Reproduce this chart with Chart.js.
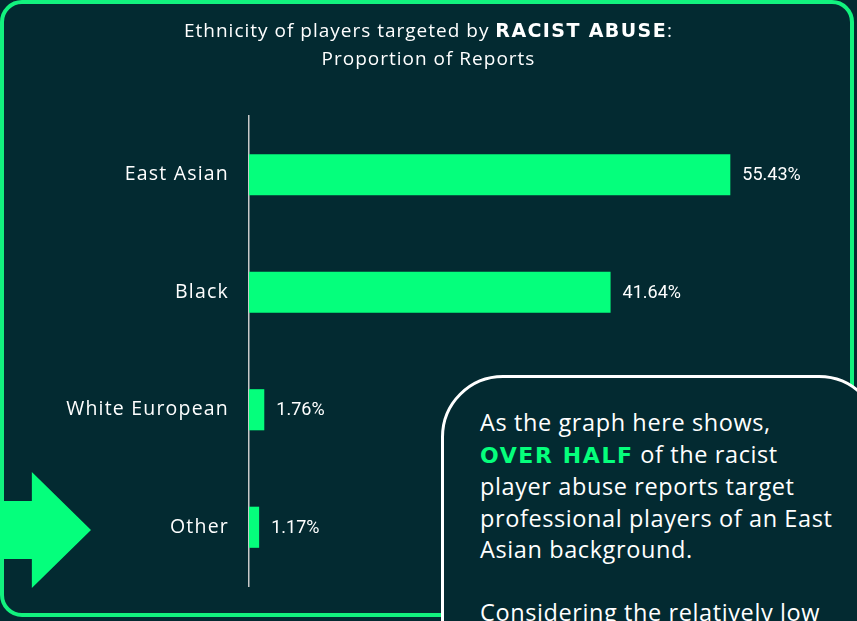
<!DOCTYPE html>
<html>
<head>
<meta charset="utf-8">
<script src="https://cdn.jsdelivr.net/npm/chart.js@4.4.1/dist/chart.umd.min.js"></script>
<style>
  html, body { margin:0; padding:0; }
  body { width:857px; height:621px; overflow:hidden; background:#032a31; position:relative; font-family: "Open Sans", "Noto Sans", sans-serif; color:#fff; }
  #frame { position:absolute; left:0; top:0; width:854px; height:617px; box-sizing:border-box; border:4px solid #12f27e; border-radius:22px; }
  #wrap { position:absolute; left:0; top:0; width:857px; height:621px; }
  #title { position:absolute; left:0; top:16px; width:857px; text-align:center; font-size:19px; line-height:28px; color:#fff; letter-spacing:1px; }
  .blk { font-family:"DejaVu Sans", sans-serif; font-weight:bold; letter-spacing:1.4px; font-size:19px; }
  #arrow { position:absolute; left:0; top:472px; width:91px; height:116px; background:#05ff7c;
           clip-path: polygon(0 25%, 35% 25%, 35% 0, 100% 50%, 35% 100%, 35% 75%, 0 75%); }
  #box { position:absolute; left:441px; top:375px; width:440px; height:320px; box-sizing:border-box; border:3px solid #fff; border-radius:62px; background:#032a31; }
  #boxtext { position:absolute; left:480px; top:407px; font-size:23.5px; line-height:31.5px; color:#fff; white-space:nowrap; letter-spacing:0.6px; }
  #boxtext .blk { color:#05ff7c; font-size:22px; letter-spacing:1.6px; }
</style>
</head>
<body>
<div id="frame"></div>
<div id="wrap"><canvas id="c" width="857" height="621"></canvas></div>
<div id="title">Ethnicity of players targeted by <span class="blk">RACIST ABUSE</span>:<br>Proportion of Reports</div>
<div id="arrow"></div>
<div id="box"></div>
<div id="boxtext">As the graph here shows,<br><span class="blk">OVER HALF</span> of the racist<br>player abuse reports target<br>professional players of an East<br>Asian background.<br><br>Considering the relatively low</div>
<script>
const categories = ["East Asian", "Black", "White European", "Other"];
const shares = [55.43, 41.64, 1.76, 1.17];
const valueLabels = ["55.43%", "41.64%", "1.76%", "1.17%"];

const spacingPlugin = {
  id: 'spacing',
  beforeDraw(chart) { chart.ctx.letterSpacing = '1.2px'; }
};

const valueLabelPlugin = {
  id: 'valueLabels',
  afterDatasetsDraw(chart) {
    const ctx = chart.ctx;
    const meta = chart.getDatasetMeta(0);
    ctx.save();
    ctx.letterSpacing = '0px';
    ctx.fillStyle = '#ffffff';
    ctx.font = '18px Roboto, "Noto Sans", sans-serif';
    ctx.textAlign = 'left';
    ctx.textBaseline = 'middle';
    meta.data.forEach((bar, i) => {
      ctx.fillText(valueLabels[i], bar.x + 12, bar.y + 1);
    });
    ctx.restore();
  }
};

new Chart(document.getElementById('c'), {
  type: 'bar',
  data: {
    labels: categories,
    datasets: [{
      data: shares,
      backgroundColor: '#05ff7c',
      borderWidth: 0,
      barPercentage: 0.35,
      categoryPercentage: 1
    }]
  },
  options: {
    indexAxis: 'y',
    responsive: false,
    animation: false,
    layout: { padding: { left: 0, right: 87, top: 116, bottom: 35 } },
    plugins: { legend: { display: false }, title: { display: false }, tooltip: { enabled: false } },
    scales: {
      x: { display: false, min: 0, max: 60 },
      y: {
        afterFit(scale) { scale.width = 249; },
        grid: { display: false, drawTicks: false },
        border: { display: true, color: '#c9c9c9', width: 1.5 },
        ticks: { color: '#ffffff', padding: 20, font: { family: '"Open Sans"', size: 19.5 } }
      }
    }
  },
  plugins: [spacingPlugin, valueLabelPlugin]
});
</script>
</body>
</html>
